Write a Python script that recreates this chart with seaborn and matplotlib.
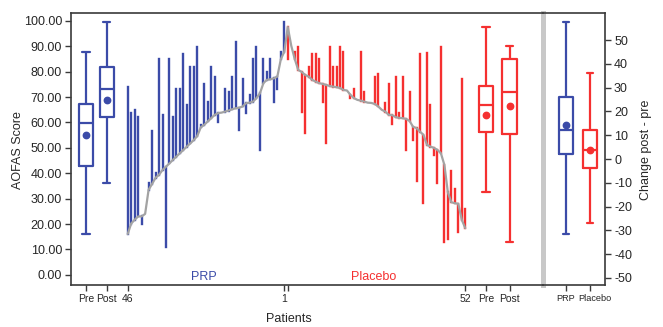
import numpy as np
import pandas as pd
import matplotlib
matplotlib.use("Agg")
import matplotlib.pyplot as plt
import matplotlib.transforms as mtransforms
import seaborn as sns

# ---------------- data ----------------
# PRP patients, ordered left to right (patient 46 ... patient 1), sorted by pre score
prp_pre = [16.1, 20.2, 21.7, 23.0, 23.0, 24.0, 33.5, 35.8, 38.2, 39.4,
           41.3, 42.6, 43.9, 45.3, 46.6, 47.9, 49.2, 50.5, 51.8, 53.1,
           54.7, 58.1, 59.1, 60.4, 61.7, 63.0, 63.7, 63.9, 64.3, 64.7,
           65.2, 65.6, 65.8, 66.3, 67.6, 67.8, 68.2, 69.6, 71.5, 75.5,
           76.8, 77.0, 77.4, 78.1, 84.9, 87.9]
prp_post = [73.9, 63.9, 65.0, 62.1, 20.1, 24.0, 36.2, 56.8, 40.2, 84.9,
            63.0, 11.1, 84.9, 62.1, 73.1, 73.1, 87.0, 66.9, 82.0, 82.0,
            89.9, 59.1, 75.2, 68.2, 82.0, 78.1, 60.0, 63.9, 73.1, 72.2,
            78.1, 91.8, 57.1, 77.0, 63.9, 70.9, 84.9, 89.9, 49.2, 84.9,
            80.0, 84.9, 67.9, 73.1, 87.9, 99.7]
# Placebo patients, ordered left to right (patient 1 ... patient 52)
plc_pre = [97.6, 90.2, 85.0, 80.7, 79.9, 78.7, 78.1, 76.8, 76.1, 75.5,
           75.2, 74.8, 74.4, 74.1, 73.9, 73.6, 72.8, 72.6, 70.9, 69.6,
           68.9, 68.6, 68.2, 67.8, 67.7, 67.3, 66.3, 65.0, 64.3, 63.0,
           62.9, 62.1, 61.8, 61.7, 61.4, 60.6, 58.3, 57.8, 56.4, 55.1,
           51.2, 50.5, 50.0, 49.2, 47.9, 43.3, 32.5, 28.6, 28.2, 28.0,
           21.7, 18.4]
plc_post = [85.0, 90.2, 87.9, 89.9, 64.3, 56.0, 81.9, 87.0, 87.0, 84.9,
            68.2, 52.1, 89.9, 81.8, 81.8, 89.9, 87.9, 72.6, 69.6, 73.1,
            68.9, 87.9, 72.2, 67.8, 67.7, 78.1, 79.0, 65.0, 67.8, 75.2,
            59.5, 78.1, 63.8, 78.1, 49.2, 72.2, 53.1, 37.1, 87.0, 28.3,
            87.2, 66.9, 47.2, 36.1, 89.9, 13.1, 14.1, 40.9, 33.9, 17.0,
            77.0, 25.9]
groups = ["PRP", "Placebo"]
x_tick_labels = ["Pre", "Post", "46", "1", "", "52", "Pre", "Post"]

# ---------------- style ----------------
sns.set_theme(style="white")
plt.rcParams["font.family"] = ["Liberation Sans", "DejaVu Sans"]
plt.rcParams["axes.unicode_minus"] = False

BLUE = "#3B4BA8"
RED = "#F53030"
GRAY = "#A3A3A3"
SPINE = "#3A3A3A"

W, H = 663, 327
fig = plt.figure(figsize=(W / 100, H / 100), dpi=100)
y0, y1 = 285, 13.3
ax = fig.add_axes([71 / W, (H - y0) / H, (543.2 - 71) / W, (y0 - y1) / H])
ax2 = fig.add_axes([543.2 / W, (H - y0) / H, (605 - 543.2) / W, (y0 - y1) / H])
ax2.patch.set_visible(False)

# positions along the patient axis
pos_pre_prp, pos_post_prp = 0, 6
pos_prp = np.arange(12, 12 + len(prp_pre))
pos_plc = np.arange(pos_prp[-1] + 1, pos_prp[-1] + 1 + len(plc_pre))
pos_pre_plc, pos_post_plc = 115, 121.8

# vertical pre -> post segments
ax.vlines(pos_prp, prp_pre, prp_post, colors=BLUE, lw=1.7, capstyle="projecting")
ax.vlines(pos_plc, plc_pre, plc_post, colors=RED, lw=1.7, capstyle="projecting")

# gray line of sorted pre scores
sns.lineplot(x=np.r_[pos_prp, pos_plc], y=np.r_[prp_pre, plc_pre],
             color=GRAY, lw=1.6, ax=ax, sort=False)

# boxes
def boxes(ax_, df, x, y, color, width, order=None, native=False):
    sns.boxplot(data=df, x=x, y=y, order=order, native_scale=native, orient="x",
                fill=False, color=color, linecolor=color, width=width,
                showfliers=False, showmeans=True, linewidth=1.6, whis=1.5,
                meanprops=dict(marker="o", markerfacecolor=color,
                               markeredgecolor=color, markersize=4.6),
                ax=ax_)

df_prp = pd.DataFrame({"pos": [pos_pre_prp] * len(prp_pre) + [pos_post_prp] * len(prp_post),
                       "score": prp_pre + prp_post})
df_plc = pd.DataFrame({"pos": [pos_pre_plc] * len(plc_pre) + [pos_post_plc] * len(plc_post),
                       "score": plc_pre + plc_post})
boxes(ax, df_prp, "pos", "score", BLUE, 0.7, native=True)
boxes(ax, df_plc, "pos", "score", RED, 4.2 / (pos_post_plc - pos_pre_plc), native=True)

ax.set_xlim(-4.3, 131.4)
ax.set_ylim(-4, 103)
ax.set_yticks(np.arange(0, 101, 10))
ax.set_yticklabels([f"{v:.2f}" for v in np.arange(0, 101, 10)], fontsize=9)
ax.set_xticks([pos_pre_prp, pos_post_prp, pos_prp[0], pos_prp[-1], pos_plc[0],
               pos_plc[-1], pos_pre_plc, pos_post_plc])
ax.set_xticklabels(x_tick_labels, fontsize=7.5)
ax.set_xlabel("")
ax.set_ylabel("")
ax.tick_params(axis="both", direction="out", length=4, width=1, color=SPINE,
               bottom=True, left=True, pad=2.5)
for s in ["left", "bottom", "top"]:
    ax.spines[s].set_color(SPINE)
    ax.spines[s].set_linewidth(1.2)
ax.spines["right"].set_color("#C8C8C8")
ax.spines["right"].set_linewidth(3.6)

ax.text(33.9, -0.8, "PRP", color=BLUE, fontsize=9, ha="center", va="center")
ax.text(82.8, -0.8, "Placebo", color=RED, fontsize=9, ha="center", va="center")

# right panel: change post - pre
chg_prp = list(np.array(prp_post) - np.array(prp_pre))
chg_plc = list(np.array(plc_post) - np.array(plc_pre))
for name, vals, col in [("PRP", chg_prp, BLUE), ("Placebo", chg_plc, RED)]:
    d = pd.DataFrame({"group": [name] * len(vals), "change": vals})
    boxes(ax2, d, "group", "change", col, 0.58, order=groups)

ax2.set_xlim(-0.95, 1.625)
ax2.set_ylim(-53, 61.3)
ax2.yaxis.tick_right()
ax2.set_yticks(np.arange(-50, 51, 10))
ax2.set_yticklabels([str(v) for v in range(-50, 51, 10)], fontsize=9)
ax2.set_xticks([0, 1])
ax2.set_xticklabels(groups, fontsize=6.6)
ax2.set_xlabel("")
ax2.set_ylabel("")
ax2.tick_params(axis="both", direction="out", length=4, width=1, color=SPINE,
                bottom=True, right=True, left=False, pad=2.5)
ax2.spines["left"].set_visible(False)
for s in ["right", "bottom", "top"]:
    ax2.spines[s].set_color(SPINE)
    ax2.spines[s].set_linewidth(1.2)
# the "Placebo" label sits slightly right of its tick in the reference
shift = mtransforms.ScaledTranslation(4.5 / 100, 0, fig.dpi_scale_trans)
lbl = ax2.get_xticklabels()[1]
lbl.set_transform(lbl.get_transform() + shift)

fig.text(18 / W, 1 - 150 / H, "AOFAS Score", rotation=90, ha="center", va="center", fontsize=9)
fig.text(289 / W, 1 - 319 / H, "Patients", ha="center", va="center", fontsize=9)
fig.text(646 / W, 1 - 150 / H, "Change post - pre", rotation=90, ha="center", va="center", fontsize=9)

fig.savefig("out.png", dpi=100)
